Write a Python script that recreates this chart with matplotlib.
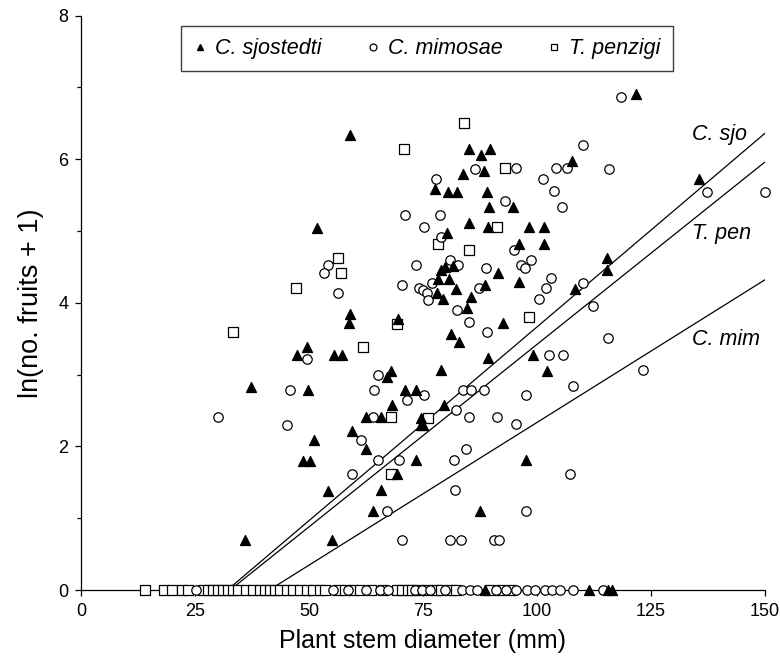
import matplotlib
matplotlib.use("Agg")
import matplotlib.pyplot as plt
from matplotlib.lines import Line2D
from matplotlib.ticker import MultipleLocator
import numpy as np

plt.rcParams["font.family"] = ["Liberation Sans", "DejaVu Sans"]

# ---- data: x = stem diameter (mm), y = ln(no. fruits + 1) ----
sjo_x = [59.0, 51.8, 59.0, 58.8, 69.6, 85.2, 87.8, 89.7, 83.8, 88.3, 77.6, 80.6, 82.5,
         89.0, 94.8, 89.4, 107.7, 85.0, 89.2, 98.3, 101.6, 80.2, 96.0, 101.6, 78.9, 79.9,
         81.5, 91.5, 78.2, 80.7, 82.2, 78.0, 79.5, 88.7, 96.0, 85.5, 84.6, 92.5, 81.2,
         83.0, 115.3, 115.3, 108.3, 121.7, 135.6, 89.2, 79.0, 99.2, 102.1, 71.0, 73.5,
         79.6, 74.5, 74.5, 75.1, 73.4, 97.7, 87.5, 49.5, 47.3, 55.4, 57.3, 68.0, 67.1,
         37.2, 49.8, 68.3, 62.4, 65.9, 59.4, 62.5, 51.1, 48.7, 50.2, 69.2, 54.2, 65.7,
         64.1, 36.0, 55.1,
         88.6, 111.5, 115.6, 116.4]
sjo_y = [6.33, 5.04, 3.84, 3.72, 3.77, 6.14, 6.06, 6.14, 5.79, 5.83, 5.59, 5.54, 5.54,
         5.54, 5.33, 5.33, 5.97, 5.11, 5.05, 5.05, 5.05, 4.97, 4.82, 4.82, 4.46, 4.50,
         4.51, 4.41, 4.33, 4.33, 4.19, 4.13, 4.05, 4.25, 4.29, 4.08, 3.93, 3.72, 3.56,
         3.45, 4.62, 4.46, 4.19, 6.91, 5.73, 3.23, 3.07, 3.27, 3.05, 2.78, 2.78,
         2.57, 2.40, 2.30, 2.30, 1.81, 1.81, 1.10, 3.39, 3.27, 3.27, 3.27, 3.05, 2.96,
         2.83, 2.78, 2.57, 2.41, 2.41, 2.21, 1.96, 2.09, 1.80, 1.80, 1.61, 1.38, 1.39,
         1.10, 0.69, 0.69,
         0.0, 0.0, 0.0, 0.0]

mim_x = [71.1, 54.2, 53.2, 56.3, 73.4, 70.5, 74.2, 75.1, 75.8, 76.0, 118.4, 86.5, 95.5,
         77.9, 92.9, 101.3, 110.0, 104.1, 106.5, 115.8, 103.7, 105.6, 78.8, 75.2, 78.9,
         94.9, 98.8, 96.4, 97.3, 81.0, 82.7, 88.9, 77.0, 87.4, 103.0, 101.9, 100.4, 82.5,
         85.2, 89.0, 110.0, 112.2, 115.6, 137.2, 150.0, 102.7, 105.8, 123.3, 108.0, 97.7,
         83.7, 85.5, 88.3, 82.2, 85.2, 91.3, 95.4, 71.5, 75.2, 84.4, 81.8, 69.7, 107.2,
         82.0, 97.5, 70.3, 81.0, 83.3, 90.6, 91.7, 49.5, 65.1, 45.9, 64.3, 30.0, 45.2,
         64.1, 61.5, 65.1, 59.4, 67.1,
         25.3, 55.3, 58.6, 62.6, 65.6, 67.4, 73.2, 74.7, 76.6, 79.8, 83.5, 85.3, 86.8,
         91.1, 93.3, 95.5, 97.8, 99.6, 101.7, 103.2, 105.0, 108.0, 114.5]
mim_y = [5.22, 4.52, 4.41, 4.13, 4.53, 4.25, 4.20, 4.18, 4.13, 4.04, 6.87, 5.86, 5.88,
         5.73, 5.42, 5.73, 6.20, 5.88, 5.88, 5.86, 5.55, 5.33, 5.22, 5.05, 4.91,
         4.73, 4.60, 4.52, 4.48, 4.60, 4.53, 4.48, 4.27, 4.20, 4.35, 4.20, 4.05, 3.90,
         3.73, 3.59, 4.27, 3.95, 3.51, 5.54, 5.54, 3.27, 3.27, 3.06, 2.84, 2.72,
         2.78, 2.78, 2.78, 2.50, 2.41, 2.41, 2.31, 2.65, 2.72, 1.96, 1.81, 1.81, 1.61,
         1.39, 1.10, 0.69, 0.69, 0.69, 0.69, 0.69, 3.22, 3.00, 2.78, 2.78, 2.41, 2.30,
         2.41, 2.09, 1.81, 1.61, 1.10,
         0.0, 0.0, 0.0, 0.0, 0.0, 0.0, 0.0, 0.0, 0.0, 0.0, 0.0, 0.0, 0.0,
         0.0, 0.0, 0.0, 0.0, 0.0, 0.0, 0.0, 0.0, 0.0, 0.0]

pen_x = [70.8, 56.3, 57.1, 47.1, 69.2, 33.3, 84.1, 93.1, 91.3, 78.2, 85.2, 98.2, 76.2,
         61.8, 68.0, 67.9,
         14.0, 18.2, 19.9, 22.1, 23.5, 26.8, 27.9, 29.0, 30.1, 31.2, 32.3, 33.4, 34.5,
         36.3, 37.8, 39.3, 40.4, 41.5, 42.6, 43.7, 45.1, 46.5, 48.0, 49.5, 50.9, 52.4,
         53.5, 56.4, 57.9, 59.7, 61.2, 63.7, 66.3, 69.2, 70.3, 71.8, 72.5, 74.0, 75.8,
         77.9, 79.0, 81.2, 82.3, 89.6, 92.1, 94.3]
pen_y = [6.14, 4.63, 4.41, 4.20, 3.70, 3.59, 6.51, 5.88, 5.05, 4.82, 4.73, 3.80, 2.40,
         3.39, 2.41, 1.61] + [0.0] * 46

# fitted lines: x where the line leaves y = 0, and its value at x = 150
line_names = ["C. sjo", "T. pen", "C. mim"]
line_x0 = [32.1, 32.7, 41.3]
line_y150 = [6.36, 5.96, 4.32]
label_y = [6.34, 4.97, 3.49]

fig = plt.figure(figsize=(7.8, 6.63), dpi=100)
ax = fig.add_axes([0.1038, 0.1101, 0.8769, 0.8665])

for x0, y1 in zip(line_x0, line_y150):
    ax.plot([x0, 150], [0, y1], color="black", lw=0.9, zorder=2)
for name, ly in zip(line_names, label_y):
    ax.text(133.9, ly, name, fontsize=15.5, style="italic", va="center", ha="left")

kw = dict(clip_on=False, zorder=4, linewidths=0.9, edgecolors="black")
ax.scatter(pen_x, pen_y, marker="s", s=42, facecolors="white", **kw)
ax.scatter(mim_x, mim_y, marker="o", s=46, facecolors="white", **kw)
ax.scatter(sjo_x, sjo_y, marker="^", s=52, facecolors="black", **kw)

ax.set_xlim(0, 150)
ax.set_ylim(0, 8)
ax.xaxis.set_major_locator(MultipleLocator(25))
ax.yaxis.set_major_locator(MultipleLocator(2))
ax.yaxis.set_minor_locator(MultipleLocator(1))
ax.tick_params(which="both", direction="out", width=0.9, labelsize=13)
ax.tick_params(which="major", length=4, pad=5)
ax.tick_params(which="minor", length=3)
for side in ("top", "right"):
    ax.spines[side].set_visible(False)
for side in ("left", "bottom"):
    ax.spines[side].set_linewidth(0.9)
ax.set_xlabel("Plant stem diameter (mm)", fontsize=18, labelpad=7)
ax.set_ylabel("ln(no. fruits + 1)", fontsize=19.5, labelpad=10)

handles = [
    Line2D([], [], ls="none", marker="^", color="black", ms=5),
    Line2D([], [], ls="none", marker="o", mfc="white", mec="black", ms=5, mew=0.9),
    Line2D([], [], ls="none", marker="s", mfc="white", mec="black", ms=5, mew=0.9),
]
leg = ax.legend(handles, ["C. sjostedti", "C. mimosae", "T. penzigi"],
                loc="upper center", bbox_to_anchor=(0.506, 1.0), ncol=3,
                prop=dict(size=15.5, style="italic"), fancybox=False,
                edgecolor="0.25", framealpha=1, handlelength=0.6,
                handletextpad=0.4, columnspacing=2.1, borderpad=0.55)
leg.get_frame().set_linewidth(1.0)

fig.savefig("out.png", dpi=100)
